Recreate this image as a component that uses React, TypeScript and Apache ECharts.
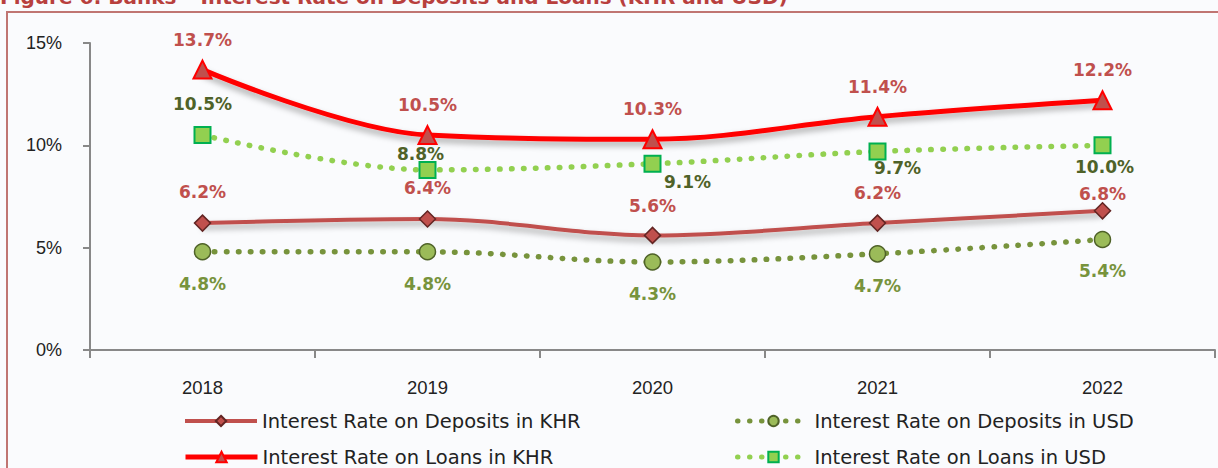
import React, { useEffect, useRef } from "react";
import * as echarts from "echarts";

const years = ["2018", "2019", "2020", "2021", "2022"];
const depositsKHR = [6.2, 6.4, 5.6, 6.2, 6.8];
const depositsUSD = [4.8, 4.8, 4.3, 4.7, 5.4];
const loansKHR = [13.7, 10.5, 10.3, 11.4, 12.2];
const loansUSD = [10.5, 8.8, 9.1, 9.7, 10.0];
const yTicks = [0, 5, 10, 15];

const names = [
  "Interest Rate on Deposits in KHR",
  "Interest Rate on Deposits in USD",
  "Interest Rate on Loans in KHR",
  "Interest Rate on Loans in USD",
];

const labelFont = "DejaVu Sans";
const legendFont = "DejaVu Sans";

export default function App() {
  const ref = useRef<HTMLDivElement>(null);
  useEffect(() => {
    if (!ref.current) return;
    const chart = echarts.init(ref.current, undefined, { renderer: "svg" });
    const fmt = (p: any) => Number(p.value).toFixed(1) + "%";
    const shadow = { shadowColor: "rgba(0,0,0,0.35)", shadowBlur: 6, shadowOffsetY: 4 };
    const usdLoanOffsets = [[0, -31], [-7, -16], [35, 18], [20, 17], [2, 22]];
    const khrDepOffsets = [[0, -31], [0, -31], [0, -29], [0, -30], [0, -17]];
    const legendText = { fontSize: 19.5, fontFamily: legendFont, color: "#222" };
    const mkLegend = (name: string, left: number, top: number, lw: number) => ({
      data: [name],
      left,
      top,
      padding: 0,
      itemWidth: 72,
      itemHeight: 13,
      textStyle: legendText,
      lineStyle: { width: lw, shadowBlur: 0, shadowOffsetY: 0, shadowColor: "transparent" },
    });
    chart.setOption({
      animation: false,
      backgroundColor: "#fafbfd",
      grid: { left: 90, right: 3, top: 43, bottom: 118 },
      xAxis: {
        type: "category",
        data: years,
        boundaryGap: true,
        axisLine: { lineStyle: { color: "#888", width: 2 } },
        axisTick: { show: true, length: 8, lineStyle: { color: "#888", width: 2 } },
        axisLabel: { color: "#222", fontSize: 18.5, fontFamily: "Liberation Sans", margin: 28 },
      },
      yAxis: {
        type: "value",
        min: yTicks[0],
        max: yTicks[yTicks.length - 1],
        interval: 5,
        splitLine: { show: false },
        axisLine: { show: true, lineStyle: { color: "#888", width: 2 } },
        axisTick: { show: true, length: 7, lineStyle: { color: "#888", width: 2 } },
        axisLabel: {
          color: "#222",
          fontSize: 18,
          fontFamily: "Liberation Sans",
          margin: 28,
          formatter: (v: number) => v + "%",
        },
      },
      legend: [
        mkLegend(names[0], 183, 411, 4),
        mkLegend(names[2], 183, 447, 5),
        mkLegend(names[1], 735, 411, 5),
        mkLegend(names[3], 735, 447, 5),
      ],
      graphic: [
        {
          type: "rect",
          shape: { x: 7, y: 12, width: 1240, height: 480 },
          style: { fill: "none", stroke: "#c07572", lineWidth: 2 },
          silent: true,
        },
        {
          type: "text",
          x: 0,
          y: -3,
          style: {
            text: "Figure 6: Banks – Interest Rate on Deposits and Loans (KHR and USD)",
            fill: "#b8403d",
            font: "bold 20px 'DejaVu Sans'",
            verticalAlign: "middle",
          },
          silent: true,
        },
      ],
      series: [
        {
          name: names[0],
          type: "line",
          data: depositsKHR.map((v, i) => ({ value: v, label: { offset: khrDepOffsets[i] } })),
          smooth: 0.35,
          symbol: "diamond",
          symbolSize: 16,
          lineStyle: { color: "#c0504d", width: 4, ...shadow },
          itemStyle: { color: "#c0504d", borderColor: "#632523", borderWidth: 1.5 },
          label: {
            show: true, position: "inside", formatter: fmt,
            color: "#c0504d", fontSize: 17, fontWeight: "bold", fontFamily: labelFont,
          },
          z: 3,
        },
        {
          name: names[1],
          type: "line",
          data: depositsUSD,
          smooth: 0.35,
          symbol: "circle",
          symbolSize: 16,
          lineStyle: { color: "#77933c", width: 5.5, type: [0.5, 11.5], cap: "round" },
          itemStyle: { color: "#9bbb59", borderColor: "#4f6228", borderWidth: 1.5 },
          label: {
            show: true, position: "inside", offset: [0, 32], formatter: fmt,
            color: "#77933c", fontSize: 17, fontWeight: "bold", fontFamily: labelFont,
          },
          z: 2,
        },
        {
          name: names[2],
          type: "line",
          data: loansKHR,
          smooth: 0.35,
          symbol: "triangle",
          symbolSize: 18,
          lineStyle: { color: "#ff0000", width: 5, ...shadow },
          itemStyle: { color: "#c0504d", borderColor: "#ff0000", borderWidth: 2 },
          label: {
            show: true, position: "inside", offset: [0, -30], formatter: fmt,
            color: "#c0504d", fontSize: 17, fontWeight: "bold", fontFamily: labelFont,
          },
          z: 5,
        },
        {
          name: names[3],
          type: "line",
          data: loansUSD.map((v, i) => ({
            value: v,
            label: { offset: usdLoanOffsets[i] },
          })),
          smooth: 0.35,
          symbol: "rect",
          symbolSize: 16,
          lineStyle: { color: "#92d050", width: 5.5, type: [0.5, 11.5], cap: "round" },
          itemStyle: { color: "#92d050", borderColor: "#00b050", borderWidth: 2 },
          label: {
            show: true, position: "inside", formatter: fmt,
            color: "#4f6228", fontSize: 17, fontWeight: "bold", fontFamily: labelFont,
          },
          z: 4,
        },
      ],
    });
    return () => chart.dispose();
  }, []);
  return (
    <div
      ref={ref}
      style={{ position: "absolute", left: 0, top: 0, width: 1218, height: 468 }}
    />
  );
}
